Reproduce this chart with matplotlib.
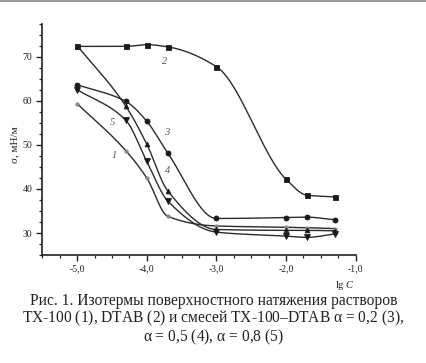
import numpy as np
import matplotlib
matplotlib.use("Agg")
import matplotlib.pyplot as plt
from matplotlib.lines import Line2D
from matplotlib.ticker import MultipleLocator, FuncFormatter

plt.rcParams['font.family'] = ['Liberation Serif', 'DejaVu Serif']
plt.rcParams['mathtext.fontset'] = 'custom'
plt.rcParams['mathtext.rm'] = 'Liberation Serif'
plt.rcParams['mathtext.it'] = 'Liberation Serif:italic'

# lg C values and surface tension (mN/m)
lgc = [-5.0, -4.3, -4.0, -3.7, -3.0, -2.0, -1.7, -1.3]
sigma_tx100 = [59.4, 48.7, 42.5, 33.8, 31.6, 31.3, 31.2, 31.0]   # 1
sigma_dtab = [72.4, 72.4, 72.8, 72.3, 67.8, 42.2, 38.6, 38.2]    # 2
sigma_a02 = [63.7, 59.9, 55.4, 48.2, 33.3, 33.5, 33.6, 33.0]     # 3
sigma_a05 = [72.6, 58.8, 50.2, 39.6, 30.8, 30.6, 30.6, 30.5]     # 4
sigma_a08 = [62.6, 55.6, 46.3, 37.3, 30.2, 29.3, 29.0, 29.8]     # 5

curve_labels = ["1", "2", "3", "4", "5"]
label_x = [-4.47, -3.74, -3.72, -3.70, -4.49]
label_y = [47.6, 68.9, 52.9, 44.1, 55.2]


def pchip(x, y, xs):
    # monotone cubic, only used to draw a smooth line through the points
    x = np.asarray(x, float)
    y = np.asarray(y, float)
    h = np.diff(x)
    d = np.diff(y) / h
    m = np.zeros_like(y)
    for i in range(1, len(x) - 1):
        if d[i - 1] * d[i] > 0:
            w1 = 2 * h[i] + h[i - 1]
            w2 = h[i] + 2 * h[i - 1]
            m[i] = (w1 + w2) / (w1 / d[i - 1] + w2 / d[i])
    m[0] = d[0]
    m[-1] = d[-1]
    idx = np.clip(np.searchsorted(x, xs) - 1, 0, len(x) - 2)
    t = (xs - x[idx]) / h[idx]
    h00 = 2 * t**3 - 3 * t**2 + 1
    h10 = t**3 - 2 * t**2 + t
    h01 = -2 * t**3 + 3 * t**2
    h11 = t**3 - t**2
    return h00 * y[idx] + h10 * h[idx] * m[idx] + h01 * y[idx + 1] + h11 * h[idx] * m[idx + 1]


fig = plt.figure(figsize=(4.27, 3.63), dpi=100)
ax = fig.add_axes([0.099, 0.2975, 0.734, 0.6365])

xs = np.linspace(lgc[0], lgc[-1], 400)
line_c = '#2b2b2b'
series = [
    (sigma_tx100, 'o', 2.4, '#888888', '#888888'),
    (sigma_dtab, 's', 3.6, '#1a1a1a', '#1a1a1a'),
    (sigma_a02, 'o', 3.6, '#1a1a1a', '#1a1a1a'),
    (sigma_a05, '^', 3.4, '#1a1a1a', '#1a1a1a'),
    (sigma_a08, 'v', 3.8, '#1a1a1a', '#1a1a1a'),
]
for vals, mk, ms, fc, ec in series:
    ax.plot(xs, pchip(lgc, vals, xs), color=line_c, lw=1.0)
    ax.plot(lgc, vals, ls='none', marker=mk, ms=ms, mfc=fc, mec=ec, mew=0.6)

for s, x, y in zip(curve_labels, label_x, label_y):
    ax.text(x, y, s, fontsize=7.5, style='italic', color='#555555', ha='center', va='center')

ax.set_xlim(-5.5, -1.0)
ax.set_ylim(25, 77.5)
ax.xaxis.set_major_locator(MultipleLocator(1.0))
ax.xaxis.set_minor_locator(MultipleLocator(0.25))
ax.yaxis.set_major_locator(MultipleLocator(10))
ax.yaxis.set_minor_locator(MultipleLocator(2.5))
ax.xaxis.set_major_formatter(FuncFormatter(lambda v, p: f"{v:.1f}".replace('.', ',')))
ax.set_yticks([30, 40, 50, 60, 70])

for sp in ['top', 'right']:
    ax.spines[sp].set_visible(False)
for sp in ['left', 'bottom']:
    ax.spines[sp].set_linewidth(1.2)
    ax.spines[sp].set_color('#222222')
ax.tick_params(which='major', length=4, width=1.0, labelsize=7, pad=3, colors='#222222')
ax.tick_params(which='minor', length=2.5, width=0.9, colors='#222222')

fig.text(15 / 427, 1 - 145 / 363, "σ, мН/м", rotation=90, fontsize=8,
         ha='center', va='center', color='#222222')
fig.text(345 / 427, 1 - 285 / 363, r"lg $\mathit{C}$", fontsize=7.5,
         ha='center', va='center', color='#222222')

caption = ("Рис. 1. Изотермы поверхностного натяжения растворов\n"
           r"ТХ-100 ($\mathit{1}$), DTAB ($\mathit{2}$) и смесей ТХ-100–DTAB α = 0,2 ($\mathit{3}$)," "\n"
           r"α = 0,5 ($\mathit{4}$), α = 0,8 ($\mathit{5}$)")
fig.text(0.5, 1 - 320 / 363, caption, fontsize=11.2, ha='center', va='center',
         linespacing=0.97, color='#222222')

fig.add_artist(Line2D([0, 1], [0.997, 0.997], color='#999999', lw=1.5))

fig.savefig("out.png", dpi=100)
